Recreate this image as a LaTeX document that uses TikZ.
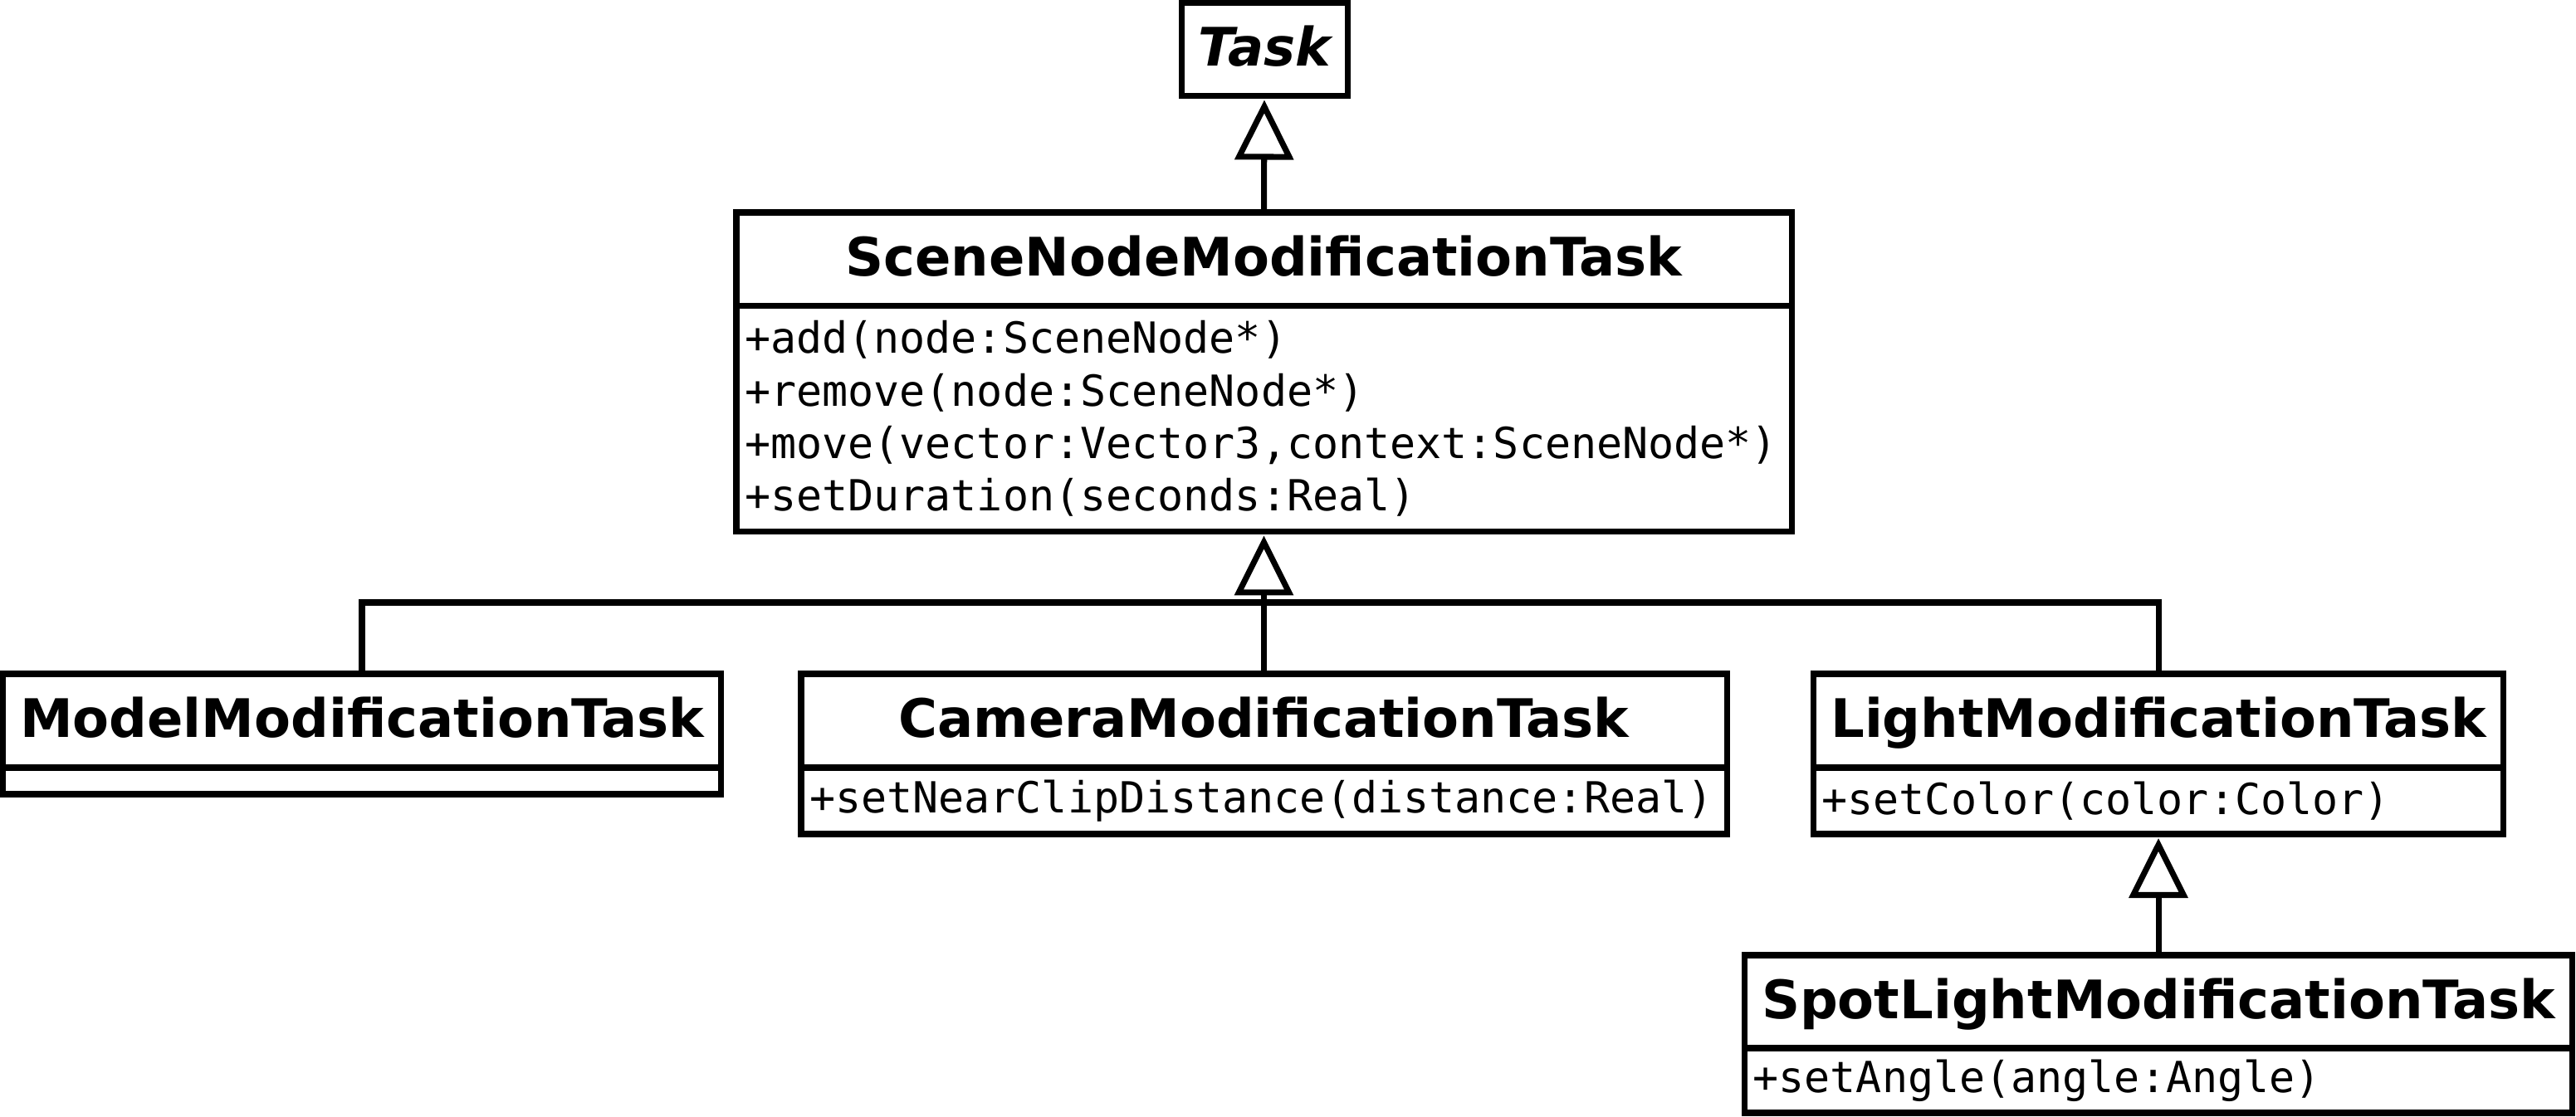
\documentclass[tikz,border=0pt]{standalone}
\usepackage{fontspec}
\setmainfont{DejaVu Sans}
\setmonofont{DejaVu Sans Mono}
\usepackage{tikz}
\usetikzlibrary{arrows.meta,positioning}

\tikzset{
	classname/.style={draw, line width=2pt, outer sep=0pt, inner sep=0pt, minimum height=1.13cm, font=\bfseries\fontsize{18.2pt}{21pt}\selectfont, text height=14.6pt, text depth=3pt},
	classbody/.style={draw, line width=2pt, outer sep=0pt, inner xsep=0.1cm, inner ysep=0pt, align=left, font=\ttfamily\fontsize{14.7pt}{18pt}\selectfont},
	inherit/.style={line width=2pt, -{Triangle[open, length=0.72cm, width=0.7cm]}, shorten >=0.05cm}
}

\begin{document}
\begin{tikzpicture}
	\useasboundingbox (0,0) rectangle (31.03,-13.46);
	\node[classname, minimum width=2cm, minimum height=1.12cm, font=\bfseries\itshape\fontsize{18.2pt}{21pt}\selectfont] (task) at (15.23,-0.595) {Task};
	\node[classname, minimum width=12.71cm, minimum height=1.125cm] (scene) at (15.225,-3.1225) {SceneNodeModificationTask};
	\node[classbody, text width=12.51cm, minimum height=2.72cm, below=0pt of scene] (scenebody) {+add(node:SceneNode*)\\+remove(node:SceneNode*)\\+move(vector:Vector3,context:SceneNode*)\\+setDuration(seconds:Real)};
	\node[classname, minimum width=8.655cm] (model) at (4.36,-8.685) {ModelModificationTask};
	\node[classbody, text width=8.455cm, minimum height=0.32cm, below=0pt of model] (modelbody) {};
	\node[classname, minimum width=11.15cm] (camera) at (15.225,-8.685) {CameraModificationTask};
	\node[classbody, text width=10.95cm, minimum height=0.8cm, below=0pt of camera] (camerabody) {+setNearClipDistance(distance:Real)};
	\node[classname, minimum width=8.31cm] (light) at (26,-8.685) {LightModificationTask};
	\node[classbody, text width=8.11cm, minimum height=0.8cm, below=0pt of light] (lightbody) {+setColor(color:Color)};
	\node[classname, minimum width=9.97cm, minimum height=1.12cm] (spot) at (26,-12.07) {SpotLightModificationTask};
	\node[classbody, text width=9.77cm, minimum height=0.78cm, below=0pt of spot] (spotbody) {+setAngle(angle:Angle)};
	\coordinate (bus) at (15.225,-7.26);
	\draw[line width=2pt] (model.north) |- (bus) -| (light.north);
	\draw[line width=2pt] (camera.north) -- (bus);
	\draw[inherit] (bus) -- (scenebody.south);
	\draw[inherit] (scene.north) -- (task.south);
	\draw[inherit] (spot.north) -- (lightbody.south);
\end{tikzpicture}
\end{document}
